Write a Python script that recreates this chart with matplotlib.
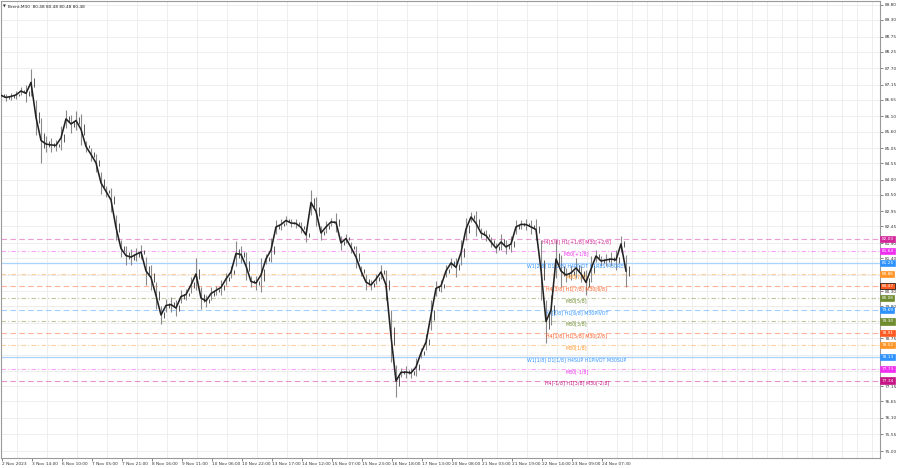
import matplotlib
matplotlib.use("Agg")
import matplotlib.pyplot as plt
import matplotlib.transforms as mtransforms
from matplotlib.ticker import FixedLocator
import numpy as np

# Brent M30, one high/low pair per ~5 bars
highs = [86.95, 86.85, 86.88, 86.95, 87.08, 87.15, 87.68, 86.65, 86.05, 85.45,
         85.39, 85.32, 85.79, 86.32, 86.15, 86.28, 86.18, 85.29, 85.06, 84.86,
         84.26, 83.80, 83.73, 82.83, 82.00, 81.80, 81.70, 81.74, 81.84, 81.44,
         81.17, 80.61, 79.81, 80.05, 80.11, 80.01, 80.34, 80.38, 80.78, 81.41,
         80.44, 80.18, 80.44, 80.48, 80.68, 80.91, 81.14, 81.97, 81.80, 81.60,
         80.81, 80.81, 81.41, 81.54, 82.07, 82.67, 82.70, 82.80, 82.70, 82.70,
         82.60, 82.40, 83.66, 83.43, 82.47, 82.63, 82.73, 82.90, 82.14, 82.20,
         81.94, 81.80, 81.14, 80.87, 80.68, 80.87, 81.17, 81.01, 79.68, 77.86,
         77.76, 77.82, 77.76, 78.09, 78.42, 78.88, 80.01, 80.64, 80.68, 81.17,
         81.41, 81.41, 82.00, 82.73, 82.93, 82.97, 82.40, 82.33, 82.10, 81.90,
         82.20, 82.00, 82.14, 82.67, 82.67, 82.70, 82.67, 82.70, 82.00, 80.01,
         80.18, 82.00, 81.51, 81.07, 81.14, 81.41, 81.14, 81.01, 81.47, 81.67,
         81.47, 81.54, 81.60, 81.67, 82.14, 81.51]
lows = [86.65, 86.61, 86.65, 86.68, 86.81, 86.58, 86.78, 85.49, 84.56, 84.92,
        84.92, 84.96, 84.99, 85.72, 85.55, 85.65, 85.16, 84.92, 84.62, 84.26,
        83.53, 83.43, 82.93, 82.00, 81.44, 81.17, 81.17, 81.31, 81.37, 80.51,
        80.34, 79.71, 79.22, 79.61, 79.61, 79.48, 79.91, 80.01, 80.24, 80.34,
        79.71, 79.78, 80.01, 80.18, 80.18, 80.51, 80.74, 81.14, 81.24, 80.68,
        80.44, 80.34, 80.28, 81.21, 81.27, 82.20, 82.33, 82.50, 82.43, 82.40,
        82.24, 81.94, 82.83, 82.47, 82.00, 82.24, 82.47, 82.27, 81.67, 81.90,
        81.57, 81.07, 80.81, 80.34, 80.34, 80.54, 80.71, 80.01, 77.95, 76.79,
        77.46, 77.42, 77.42, 77.49, 78.09, 78.35, 79.02, 80.15, 80.28, 80.78,
        81.07, 80.78, 81.17, 82.00, 82.60, 82.14, 82.07, 81.97, 81.77, 81.57,
        81.67, 81.54, 81.60, 82.20, 82.37, 82.33, 82.20, 82.00, 80.01, 78.59,
        79.18, 80.74, 80.44, 80.61, 80.68, 80.74, 80.61, 80.18, 80.61, 81.27,
        81.14, 81.14, 81.14, 81.01, 81.60, 80.44]

price_ticks = ["89.80", "89.30", "88.75", "88.25", "87.70", "87.15", "86.65", "86.10",
               "85.60", "85.05", "84.55", "84.00", "83.50", "82.95", "82.45", "81.90",
               "81.40", "80.85", "80.30", "79.80", "79.25", "78.75", "78.20", "77.65",
               "77.15", "76.65", "76.10", "75.55", "75.00"]

time_labels = ["2 Nov 2023", "3 Nov 14:00", "6 Nov 10:00", "7 Nov 05:00", "7 Nov 21:00",
               "8 Nov 16:00", "9 Nov 11:00", "10 Nov 06:00", "10 Nov 22:00", "13 Nov 17:00",
               "14 Nov 12:00", "15 Nov 07:00", "15 Nov 23:00", "16 Nov 18:00", "17 Nov 13:00",
               "20 Nov 08:00", "21 Nov 03:00", "21 Nov 19:00", "22 Nov 14:00", "23 Nov 09:00",
               "24 Nov 07:30"]

# murrey math levels
levels = [82.03, 81.64, 81.25, 80.86, 80.47, 80.08, 79.69, 79.30, 78.91, 78.52, 78.13, 77.73, 77.34]
level_names = ["H4[5/8] H1[+1/8] M30[+2/8]", "M30[+1/8]",
               "W1[2/8] D1[2/8] H4PIVOT H1RES M30RES", "M30[7/8]",
               "H4[3/8] H1[7/8] M30[6/8]", "M30[5/8]",
               "H4[2/8] H1[6/8] M30PIVOT", "M30[3/8]",
               "H4[1/8] H1[5/8] M30[2/8]", "M30[1/8]",
               "W1[1/8] D1[1/8] H4SUP H1PIVOT M30SUP", "M30[-1/8]",
               "H4[-1/8] H1[3/8] M30[-2/8]"]
level_colors = ["#D4279A", "#F030F0", "#2E93FF", "#FF9526", "#FF5A1F", "#6E8B2E",
                "#2E93FF", "#6E8B2E", "#FF5A1F", "#FF9526", "#2E93FF", "#F030F0", "#C71585"]
level_styles = [(0, (5, 3)), (0, (4, 2, 1, 2)), "-", (0, (4, 2, 1, 2)), (0, (5, 3)), (0, (4, 2, 1, 2)),
                (0, (5, 3)), (0, (4, 2, 1, 2)), (0, (5, 3)), (0, (4, 2, 1, 2)), "-", (0, (4, 2, 1, 2)), (0, (5, 3))]

bars_per_label = 6
grid_step = 3

fig = plt.figure(figsize=(9, 4.68), dpi=100)
ax = fig.add_axes([1 / 900, 10 / 468, 879 / 900, 457 / 468])
x = np.arange(len(highs))
hi = np.array(highs)
lo = np.array(lows)
mid = (hi + lo) / 2

ax.set_xlim(0, 175.8)
ax.set_ylim(74.77, 89.93)

# grid
grid_pos = np.arange(0.2, 176, grid_step)
ax.xaxis.set_minor_locator(FixedLocator(grid_pos))
ax.grid(axis="x", which="minor", color="#EBEBEB", lw=0.6)
ax.grid(axis="y", which="major", color="#EBEBEB", lw=0.6)
ax.set_axisbelow(True)

# levels
yx = mtransforms.blended_transform_factory(ax.transAxes, ax.transData)
for lv, name, col, ls in zip(levels, level_names, level_colors, level_styles):
    if ls == "-":
        ax.axhline(lv, color="#A9D2FF", lw=0.9, zorder=1)
    else:
        ax.axhline(lv, color=col, ls=ls, lw=0.8, alpha=0.45, zorder=1)
    ax.text(0.655, lv - 0.09, name, transform=yx, ha="center", va="center",
            color=col, fontsize=3.4, zorder=3)

# price bars: high-low wicks plus a thin body line
ax.vlines(x, lo, hi, color="#8a8a8a", lw=0.8, zorder=2)
ax.vlines(x + 0.5, (lo * 2 + hi) / 3, (hi * 2 + lo) / 3, color="#555555", lw=0.7, zorder=2)
ax.plot(x, mid, color="#222222", lw=1.15, zorder=3)

# axes look
for s in ax.spines.values():
    s.set_color("#9A9A9A")
    s.set_linewidth(0.8)
ax.yaxis.tick_right()
ax.set_yticks([float(t) for t in price_ticks])
# ticks hidden under a level tag are left blank
shown = [t if min(abs(float(t) - lv) for lv in levels) > 0.09 else "" for t in price_ticks]
ax.set_yticklabels(shown)
ax.set_xticks(np.arange(len(time_labels)) * bars_per_label + 0.2)
ax.set_xticklabels(time_labels, ha="left")
ax.tick_params(axis="both", which="major", labelsize=3.1, colors="#555555",
               labelcolor="#333333", length=2, width=0.5, pad=1.2)
ax.tick_params(axis="x", which="minor", length=0)

# right axis level tags
for lv, col in zip(levels, level_colors):
    edge = "black" if lv == 80.47 else col
    ax.text(1.0015, lv, f"{lv:.2f}", transform=yx, ha="left", va="center", color="white",
            fontsize=3.1, zorder=5, clip_on=False,
            bbox=dict(boxstyle="square,pad=0.25", fc=col, ec=edge, lw=0.5))

# header
ax.text(0.002, 0.987, "\u25bc", transform=ax.transAxes, fontsize=2.6, color="#333333", va="center")
ax.text(0.008, 0.987, "Brent,M30  80.48 80.48 80.48 80.48", transform=ax.transAxes,
        fontsize=3.1, color="#222222", va="center")

fig.savefig("out.png", dpi=100)
